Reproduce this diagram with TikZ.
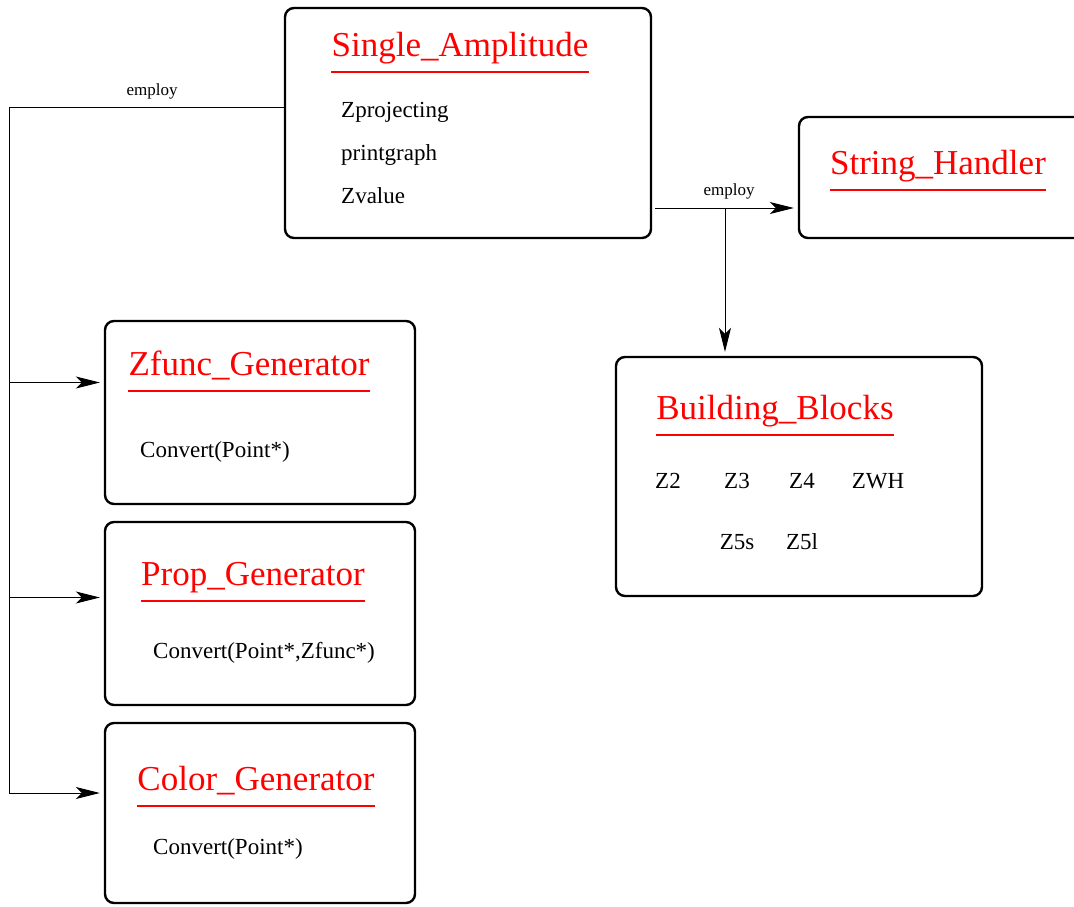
\documentclass[tikz,border=0pt]{standalone}
\usepackage{fontspec}
\setmainfont{Liberation Serif}
\usetikzlibrary{arrows.meta,calc}

\begin{document}
\begin{tikzpicture}[x=1pt,y=-1pt,
    class/.style={
      rectangle,
      draw,
      line width=2.4pt,
      rounded corners=9pt
    },
    title/.style={text=red, inner sep=0pt, anchor=base, font=\fontsize{35}{40}\selectfont},
    member/.style={inner sep=0pt, anchor=base west, font=\fontsize{23}{26}\selectfont},
    block/.style={inner sep=0pt, anchor=base, font=\fontsize{23}{26}\selectfont},
    tag/.style={inner sep=0pt, anchor=base, font=\fontsize{17}{20}\selectfont},
    uline/.style={red, line width=1.4pt},
    wire/.style={line width=0.9pt},
    >={Stealth[length=24pt,width=12pt,inset=6pt]}
  ]
  \useasboundingbox (0,0) rectangle (1074,906);
  \clip (0,0) rectangle (1074,906);
  \node[class,minimum width=366pt,minimum height=230pt] (SA) at (468,123) {};
  \node[class,minimum width=321pt,minimum height=121pt] (SH) at (959.5,177.5) {};
  \node[class,minimum width=310pt,minimum height=183pt] (ZG) at (260,412.5) {};
  \node[class,minimum width=310pt,minimum height=183pt] (PG) at (260,613.5) {};
  \node[class,minimum width=310pt,minimum height=180pt] (CG) at (260,813) {};
  \node[class,minimum width=366pt,minimum height=239pt] (BB) at (799,476.5) {};
  \node[title] (tSA) at (460,56) {Single\_Amplitude};
  \node[title] (tSH) at (938,174) {String\_Handler};
  \node[title] (tZG) at (249,375) {Zfunc\_Generator};
  \node[title] (tPG) at (253,585) {Prop\_Generator};
  \node[title] (tCG) at (256,790) {Color\_Generator};
  \node[title] (tBB) at (775,419) {Building\_Blocks};
  \foreach \t in {tSA,tSH,tZG,tPG,tCG,tBB}
    \draw[uline] ([yshift=-16pt]\t.base west) -- ([yshift=-16pt]\t.base east);
  \node[member] (m1) at (341,117) {Zprojecting};
  \node[member] (m2) at (341,160) {printgraph};
  \node[member] (m3) at (341,203) {Zvalue};
  \node[member] (m4) at (140,457) {Convert(Point*)};
  \node[member] (m5) at (153,658) {Convert(Point*,Zfunc*)};
  \node[member] (m6) at (153,854) {Convert(Point*)};
  \node[block] (z2) at (668,488) {Z2};
  \node[block] (z3) at (737,488) {Z3};
  \node[block] (z4) at (802,488) {Z4};
  \node[block] (zwh) at (878,488) {ZWH};
  \node[block] (z5s) at (737,549) {Z5s};
  \node[block] (z5l) at (802,549) {Z5l};
  \node[tag] (e1) at (152,95) {employ};
  \node[tag] (e2) at (729,195) {employ};
  \coordinate (bus) at (9,107);
  \coordinate (zg-in) at ([yshift=30pt]ZG.west);
  \coordinate (pg-in) at ([yshift=16pt]PG.west);
  \coordinate (cg-in) at ([yshift=20pt]CG.west);
  \coordinate (split) at (725,208);
  \draw[wire] ([yshift=16pt]SA.west) -- (bus) -- (bus |- cg-in);
  \foreach \n in {zg-in,pg-in,cg-in}
    \draw[wire,->,shorten >=4pt] (bus |- \n) -- (\n);
  \draw[wire,->,shorten <=3pt,shorten >=4pt] ([yshift=-85pt]SA.east) -- ([yshift=-85pt]SA.east -| SH.west);
  \draw[wire,->,shorten >=4pt] (split) -- (split |- BB.north);
\end{tikzpicture}
\end{document}
